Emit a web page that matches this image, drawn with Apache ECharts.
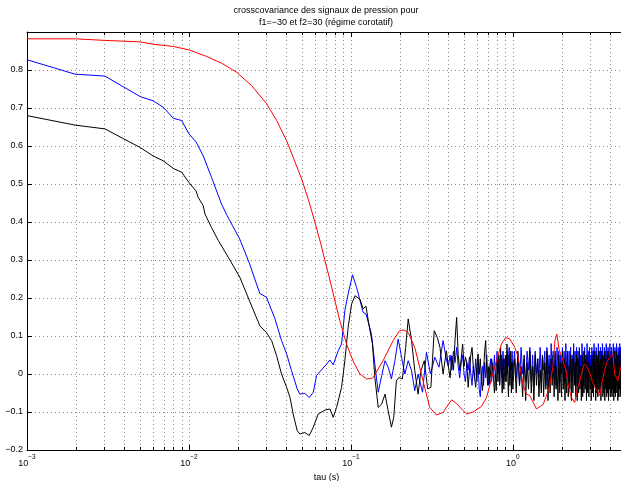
<!DOCTYPE html>
<html><head><meta charset="utf-8">
<script src="https://cdn.jsdelivr.net/npm/echarts@6/dist/echarts.min.js"></script>
<style>html,body{margin:0;padding:0;background:#fff}#c{width:621px;height:481px}</style>
</head><body><div id="c"></div>
<script>
const titleLines = ['crosscovariance des signaux de pression pour', 'f1=\u221230 et f2=30 (r\u00e9gime corotatif)'];
const xAxisTitle = 'tau (s)';
const xMinorTicks = [0.002,0.003,0.004,0.005,0.006,0.007,0.008,0.009,0.02,0.03,0.04,0.05,0.06,0.07,0.08,0.09,0.2,0.3,0.4,0.5,0.6,0.7,0.8,0.9,2,3,4,5];

const redTau = [0.001,0.002,0.003,0.005,0.006,0.008,0.010,0.0128,0.0159,0.0197,0.0244,0.0302,0.0348,0.0401,0.045,0.0497,0.055,0.060,0.065,0.0692,0.074,0.0778,0.0855,0.094,0.103,0.1137,0.125,0.133,0.1373,0.158,0.1825,0.200,0.213,0.226,0.248,0.279,0.307,0.338,0.371,0.40,0.419,0.45,0.49,0.518,0.569,0.641,0.688,0.739,0.793,0.851,0.905,0.958,1.029,1.078,1.158,1.216,1.274,1.40,1.48,1.54,1.62,1.69,1.77,1.82,1.87,1.93,2.04,2.12,2.20,2.30,2.41,2.50,2.59,2.75,2.85,3.00,3.10,3.21,3.32,3.44,3.56,3.69,3.80,3.97,4.15,4.26,4.45,4.64,4.90];
const redVal = [0.882,0.882,0.878,0.874,0.868,0.862,0.853,0.836,0.818,0.794,0.759,0.711,0.667,0.614,0.560,0.513,0.455,0.399,0.345,0.298,0.250,0.211,0.140,0.079,0.035,0.000,-0.013,-0.012,-0.009,0.035,0.088,0.114,0.116,0.109,0.070,-0.018,-0.088,-0.108,-0.101,-0.080,-0.068,-0.078,-0.095,-0.105,-0.100,-0.085,-0.062,-0.012,0.035,0.079,0.096,0.092,0.070,0.045,-0.030,-0.053,-0.057,-0.092,-0.085,-0.080,-0.055,-0.030,0.020,0.088,0.105,0.065,0.035,0.013,-0.030,-0.062,-0.075,-0.040,-0.018,0.026,0.022,0.000,-0.020,-0.035,-0.045,-0.057,-0.020,0.009,0.030,0.044,0.053,0.000,-0.018,0.018,0.010];

const blueTau = [0.001,0.00198,0.00303,0.005,0.006,0.00694,0.008,0.00902,0.010,0.01105,0.01225,0.0138,0.0159,0.0172,0.0186,0.0206,0.0237,0.0255,0.0274,0.0301,0.0340,0.0373,0.0401,0.0430,0.0466,0.0484,0.0520,0.0553,0.0586,0.0614,0.0659,0.0708,0.0742,0.0778,0.0835,0.0876,0.0918,0.0962,0.1024,0.1084,0.1137,0.119,0.124,0.134,0.1406,0.1475,0.155,0.1625,0.170,0.178,0.187,0.196,0.2056,0.2155,0.226,0.237,0.248,0.260,0.277,0.293,0.310,0.330,0.350,0.371,0.390];
const blueVal = [0.827,0.789,0.784,0.730,0.719,0.702,0.673,0.667,0.632,0.611,0.574,0.517,0.447,0.417,0.390,0.355,0.290,0.250,0.212,0.202,0.145,0.088,0.053,0.009,-0.039,-0.053,-0.051,-0.062,-0.048,-0.004,0.011,0.026,0.037,0.024,0.061,0.079,0.167,0.211,0.261,0.228,0.195,0.162,0.158,0.105,0.026,-0.048,-0.004,0.035,0.018,-0.013,0.035,0.092,0.044,0.000,0.035,0.009,-0.044,0.000,-0.048,0.057,0.000,0.044,0.018,0.088,0.035];

const blackTau = [0.001,0.00198,0.00303,0.005,0.006,0.00694,0.008,0.00902,0.010,0.01105,0.0114,0.01225,0.01256,0.0138,0.0152,0.0179,0.0206,0.0238,0.0274,0.0301,0.0324,0.0348,0.0373,0.0401,0.0421,0.0440,0.0466,0.0484,0.0520,0.0553,0.0586,0.0629,0.0692,0.0742,0.0778,0.0816,0.0876,0.0918,0.0962,0.1010,0.106,0.1137,0.119,0.124,0.129,0.136,0.1406,0.1475,0.155,0.1625,0.170,0.178,0.184,0.191,0.198,0.208,0.218,0.226,0.237,0.248,0.260,0.271,0.284,0.298,0.312,0.327,0.342,0.355,0.371,0.389];
const blackVal = [0.680,0.655,0.645,0.596,0.574,0.561,0.541,0.531,0.504,0.482,0.465,0.443,0.421,0.385,0.351,0.300,0.255,0.190,0.127,0.109,0.088,0.048,0.000,-0.035,-0.062,-0.105,-0.149,-0.158,-0.154,-0.162,-0.140,-0.105,-0.095,-0.092,-0.114,-0.088,-0.035,0.035,0.123,0.184,0.206,0.197,0.172,0.178,0.132,0.079,-0.009,-0.088,-0.079,-0.053,-0.097,-0.140,-0.114,-0.018,-0.009,-0.013,0.070,0.145,0.088,0.009,-0.053,0.009,0.035,-0.039,-0.035,0.114,0.096,0.070,0.000,0.061];

// shared sampling of the fast-oscillating tail (0.40 .. 1.00)
const tailTauA = [0.40,0.41,0.42,0.43,0.44,0.45,0.46,0.47,0.48,0.49,
0.50,0.51,0.52,0.53,0.54,0.55,0.56,0.57,0.58,0.59,
0.60,0.61,0.62,0.63,0.64,0.65,0.66,0.67,0.68,0.69,
0.70,0.71,0.72,0.73,0.74,0.75,0.76,0.77,0.78,0.79,
0.80,0.81,0.82,0.83,0.84,0.85,0.86,0.87,0.88,0.89,
0.90,0.91,0.92,0.93,0.94,0.95,0.96,0.97,0.98,0.99,
1.00];
const blackTailA = [0.02,-0.01,0.048,0.01,0.09,0.149,0.05,0.009,0.04,0.079,
0.02,0.044,0.03,-0.035,0.01,0.05,0.07,0.02,-0.01,-0.035,
0.02,0.053,0.0,0.04,-0.02,-0.044,0.01,0.06,0.088,0.01,
-0.03,0.02,-0.026,0.01,0.04,0.035,-0.01,-0.05,0.0,-0.044,
0.03,-0.02,0.05,-0.03,0.07,0.02,-0.05,0.04,-0.04,-0.044,
0.05,-0.02,0.079,0.0,-0.06,0.05,-0.03,0.06,-0.05,0.03,
-0.04];
const blueTailA = [0.02,0.05,0.01,0.06,0.03,0.07,0.02,-0.01,0.03,0.05,
0.0,-0.02,0.03,0.01,0.045,0.0,-0.03,0.02,-0.01,0.04,
-0.02,0.03,-0.04,-0.06,0.0,0.02,-0.03,0.03,-0.01,0.05,
0.0,-0.03,0.02,0.04,-0.02,0.03,0.0,0.05,-0.01,0.02,
0.06,0.0,0.04,-0.02,0.03,0.05,-0.01,0.06,0.01,0.04,
-0.02,0.05,0.0,0.06,0.02,0.07,-0.01,0.04,0.01,0.06,
0.0];

// shared sampling of the fast-oscillating tail (1.025 .. 4.975)
const tailTauB = [1.025,1.050,1.075,1.100,1.125,1.150,1.175,1.200,1.225,1.250,
1.275,1.300,1.325,1.350,1.375,1.400,1.425,1.450,1.475,1.500,
1.525,1.550,1.575,1.600,1.625,1.650,1.675,1.700,1.725,1.750,
1.775,1.800,1.825,1.850,1.875,1.900,1.925,1.950,1.975,2.000,
2.025,2.050,2.075,2.100,2.125,2.150,2.175,2.200,2.225,2.250,
2.275,2.300,2.325,2.350,2.375,2.400,2.425,2.450,2.475,2.500,
2.525,2.550,2.575,2.600,2.625,2.650,2.675,2.700,2.725,2.750,
2.775,2.800,2.825,2.850,2.875,2.900,2.925,2.950,2.975,3.000,
3.025,3.050,3.075,3.100,3.125,3.150,3.175,3.200,3.225,3.250,
3.275,3.300,3.325,3.350,3.375,3.400,3.425,3.450,3.475,3.500,
3.525,3.550,3.575,3.600,3.625,3.650,3.675,3.700,3.725,3.750,
3.775,3.800,3.825,3.850,3.875,3.900,3.925,3.950,3.975,4.000,
4.025,4.050,4.075,4.100,4.125,4.150,4.175,4.200,4.225,4.250,
4.275,4.300,4.325,4.350,4.375,4.400,4.425,4.450,4.475,4.500,
4.525,4.550,4.575,4.600,4.625,4.650,4.675,4.700,4.725,4.750,
4.775,4.800,4.825,4.850,4.875,4.900,4.925,4.950,4.975];
const blackTailB = [0.04,-0.05,0.06,-0.03,0.02,-0.06,0.05,-0.07,0.03,-0.04,
0.06,-0.05,0.02,-0.07,0.05,-0.03,0.04,-0.06,0.01,-0.05,
0.05,-0.06,0.03,-0.04,0.06,-0.07,0.02,-0.05,0.04,-0.03,
0.05,-0.06,0.06,-0.04,0.02,-0.07,0.05,-0.05,0.03,-0.06,
0.06,-0.04,0.04,-0.07,0.03,-0.05,0.06,-0.06,0.02,-0.04,
0.05,-0.07,0.04,-0.05,0.06,-0.03,0.03,-0.06,0.05,-0.07,
0.04,-0.05,0.06,-0.04,0.02,-0.07,0.05,-0.06,0.03,-0.05,
0.06,-0.04,0.04,-0.07,0.05,-0.05,0.03,-0.06,0.06,-0.04,
0.02,-0.07,0.05,-0.05,0.04,-0.06,0.06,-0.03,0.03,-0.07,
0.05,-0.05,0.04,-0.06,0.06,-0.04,0.03,-0.05,0.04,-0.07,
0.06,-0.03,0.05,-0.06,0.02,-0.05,0.06,-0.07,0.04,-0.04,
0.03,-0.06,0.05,-0.05,0.06,-0.07,0.02,-0.04,0.05,-0.06,
0.04,-0.05,0.06,-0.06,0.03,-0.04,0.05,-0.07,0.06,-0.05,
0.02,-0.06,0.04,-0.05,0.06,-0.03,0.05,-0.07,0.03,-0.06,
0.05,-0.04,0.06,-0.06,0.02,-0.05,0.04,-0.07,0.06,-0.04,
0.03,-0.06,0.05,-0.05,0.04,-0.07,0.06,-0.04,0.05];
const blueTailB = [0.06,-0.01,0.05,-0.03,0.07,0.00,0.04,-0.02,0.06,0.01,
0.07,-0.02,0.05,-0.03,0.06,0.00,0.04,-0.01,0.07,-0.02,
0.05,0.01,0.06,-0.03,0.07,0.00,0.05,-0.02,0.08,0.01,
0.06,-0.01,0.05,-0.03,0.07,0.02,0.06,-0.02,0.05,0.00,
0.07,-0.01,0.06,-0.02,0.08,0.01,0.05,-0.03,0.06,0.00,
0.07,-0.02,0.05,0.01,0.08,-0.01,0.06,-0.03,0.07,0.02,
0.06,-0.01,0.07,0.00,0.05,-0.02,0.08,0.01,0.06,-0.03,
0.07,0.00,0.05,-0.01,0.08,-0.02,0.06,0.01,0.07,-0.01,
0.05,-0.03,0.07,0.02,0.06,-0.01,0.08,0.00,0.06,-0.02,
0.07,0.01,0.05,-0.02,0.08,0.00,0.06,-0.01,0.07,-0.03,
0.06,0.00,0.08,-0.02,0.05,0.01,0.07,-0.01,0.06,-0.03,
0.08,0.00,0.06,-0.02,0.07,0.01,0.05,-0.03,0.08,0.00,
0.06,-0.01,0.07,0.02,0.05,-0.02,0.08,0.00,0.06,-0.01,
0.07,-0.03,0.06,0.01,0.08,-0.01,0.05,0.00,0.07,-0.02,
0.06,0.01,0.08,-0.02,0.07,0.00,0.05,-0.01,0.08,-0.03,
0.06,0.00,0.07,-0.02,0.08,0.01,0.06,-0.01,0.07];

function pairs(t, v) { const n = Math.min(t.length, v.length); const o = []; for (let i = 0; i < n; i++) o.push([t[i], v[i]]); return o; }
const redData = pairs(redTau, redVal);
const blueData = pairs(blueTau, blueVal).concat(pairs(tailTauA, blueTailA), pairs(tailTauB, blueTailB));
const blackData = pairs(blackTau, blackVal).concat(pairs(tailTauA, blackTailA), pairs(tailTauB, blackTailB));

const X_MIN = 0.001, X_MAX = 5, Y_MIN = -0.2, Y_MAX = 0.9;
const FONT = '"Liberation Sans", Arial, Helvetica, sans-serif';
const gridColor = '#8c8c8c';

const chart = echarts.init(document.getElementById('c'), null, { renderer: 'canvas' });
const xBase = {
  type: 'log', logBase: 10, min: X_MIN, max: X_MAX, gridIndex: 0,
  axisLine: { show: true, onZero: false, lineStyle: { color: '#000', width: 1 } },
  axisTick: { show: true, inside: true, length: 5, lineStyle: { color: '#000' } },
  minorTick: { show: false }, splitArea: { show: false }
};
chart.setOption({
  animation: false,
  backgroundColor: '#fff',
  textStyle: { fontFamily: FONT },
  title: {
    text: titleLines.join('\n'), left: 326, top: 5, padding: 0, textAlign: 'center',
    textStyle: { fontSize: 9, fontWeight: 'normal', color: '#000', lineHeight: 12, fontFamily: FONT }
  },
  grid: { left: 27, top: 32, width: 599, height: 418, containLabel: false, outerBoundsMode: 'none' },
  xAxis: [
    Object.assign({}, xBase, {
      position: 'bottom',
      name: xAxisTitle, nameLocation: 'middle', nameGap: 18,
      nameTextStyle: { fontSize: 9, color: '#000', fontFamily: FONT },
      splitLine: { show: true, showMaxLine: false, lineStyle: { color: gridColor, type: [1, 3], width: 1 } },
      axisLabel: {
        show: true, margin: 4, color: '#000', showMaxLabel: false,
        formatter: function (v) {
          const e = Math.round(Math.log10(v));
          return '{b|10}{s|' + (e < 0 ? '\u2212' + (-e) : e) + '}';
        },
        rich: {
          b: { fontSize: 9, color: '#000', fontFamily: FONT, lineHeight: 14, verticalAlign: 'bottom' },
          s: { fontSize: 6.5, color: '#000', fontFamily: FONT, lineHeight: 14, verticalAlign: 'top' }
        }
      }
    }),
    Object.assign({}, xBase, {
      position: 'top', axisLabel: { show: false }, splitLine: { show: false }
    })
  ],
  yAxis: [
    {
      type: 'value', min: Y_MIN, max: Y_MAX, interval: 0.1, position: 'left',
      axisLine: { show: true, onZero: false, lineStyle: { color: '#000', width: 1 } },
      axisTick: { show: true, inside: true, length: 5, lineStyle: { color: '#000' } },
      splitLine: { show: true, lineStyle: { color: gridColor, type: [1, 3], width: 1 } },
      axisLabel: {
        show: true, margin: 4, color: '#000', fontSize: 9, fontFamily: FONT, showMaxLabel: false,
        formatter: function (v) {
          const r = Math.round(v * 10) / 10;
          if (Math.abs(r) < 1e-9) return '0';
          return (r < 0 ? '\u2212' : '') + Math.abs(r).toFixed(1);
        }
      }
    },
    {
      type: 'value', min: Y_MIN, max: Y_MAX, interval: 0.1, position: 'right',
      axisLine: { show: true, onZero: false, lineStyle: { color: '#000' } },
      axisTick: { show: true, inside: true, length: 5, lineStyle: { color: '#000' } },
      splitLine: { show: false }, axisLabel: { show: false }
    }
  ],
  series: [
    {
      type: 'custom', name: 'minorgrid', silent: true, z: 1,
      xAxisIndex: 0, yAxisIndex: 0,
      data: xMinorTicks.map(v => [v, 0]),
      renderItem: function (params, api) {
        const v = api.value(0);
        const top = api.coord([v, Y_MAX]);
        const bot = api.coord([v, Y_MIN]);
        const x = Math.round(top[0]) + 0.5;
        return {
          type: 'group', children: [
            { type: 'line', shape: { x1: x, y1: top[1], x2: x, y2: bot[1] }, style: { stroke: gridColor, lineWidth: 1, lineDash: [1, 3] } },
            { type: 'line', shape: { x1: x, y1: bot[1], x2: x, y2: bot[1] - 3 }, style: { stroke: '#000', lineWidth: 1 } },
            { type: 'line', shape: { x1: x, y1: top[1], x2: x, y2: top[1] + 3 }, style: { stroke: '#000', lineWidth: 1 } }
          ]
        };
      }
    },
    { type: 'line', name: 'blue', data: blueData, showSymbol: false, symbol: 'none', z: 3,
      lineStyle: { color: '#0000ff', width: 1 }, itemStyle: { color: '#0000ff' } },
    { type: 'line', name: 'black', data: blackData, showSymbol: false, symbol: 'none', z: 4,
      lineStyle: { color: '#000000', width: 1 }, itemStyle: { color: '#000' } },
    { type: 'line', name: 'red', data: redData, showSymbol: false, symbol: 'none', z: 5,
      lineStyle: { color: '#ff0000', width: 1 }, itemStyle: { color: '#ff0000' } }
  ]
});
</script>
</body></html>
